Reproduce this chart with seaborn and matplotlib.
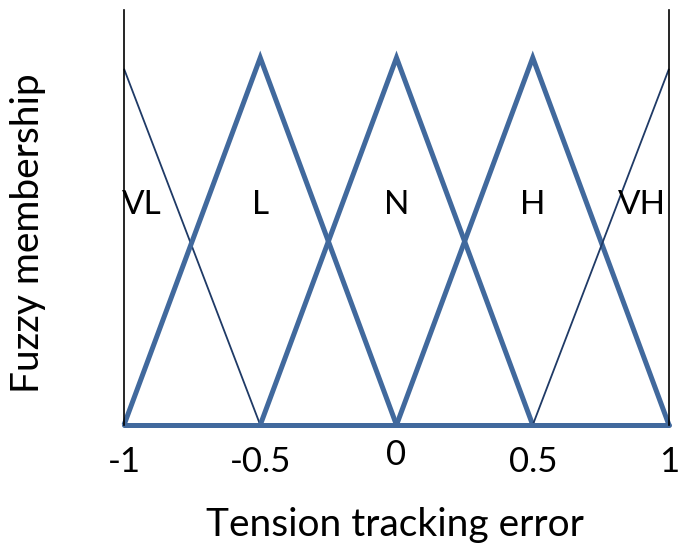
import matplotlib
matplotlib.use("Agg")
import matplotlib.pyplot as plt
import seaborn as sns
import pandas as pd

# Fuzzy sets for the tension tracking error: breakpoints and membership values
set_names = ["VL", "L", "N", "H", "VH"]
set_x = [
    [-1.0, -0.5],
    [-1.0, -0.5, 0.0],
    [-0.5, 0.0, 0.5],
    [0.0, 0.5, 1.0],
    [0.5, 1.0],
]
set_mu = [
    [0.97, 0.0],
    [0.0, 1.0, 0.0],
    [0.0, 1.0, 0.0],
    [0.0, 1.0, 0.0],
    [0.0, 0.97],
]
label_x = [-0.935, -0.5, 0.0, 0.5, 0.9]
label_y = 0.60

tick_values = [-1, -0.5, 0, 0.5, 1]
tick_labels = ["-1", "-0.5", "0", "0.5", "1"]

sns.set_theme(style="white")
plt.rcParams["font.family"] = ["Lato", "DejaVu Sans"]

thick = "#41699d"
thin = "#1f3a66"

rows = []
for name, xs, ys in zip(set_names, set_x, set_mu):
    for i, (x, y) in enumerate(zip(xs, ys)):
        rows.append({"set": name, "x": x, "mu": y, "order": i})
df = pd.DataFrame(rows)

fig = plt.figure(figsize=(6.82, 5.55), dpi=100)
ax = fig.add_axes([124 / 682, 130 / 555, 545 / 682, 415 / 555])

palette = {"VL": thin, "L": thick, "N": thick, "H": thick, "VH": thin}
sizes = {"VL": 1.3, "L": 3.6, "N": 3.6, "H": 3.6, "VH": 1.3}
for name in set_names:
    sub = df[df["set"] == name].sort_values("order")
    sns.lineplot(data=sub, x="x", y="mu", ax=ax, color=palette[name],
                 linewidth=sizes[name], sort=False, estimator=None,
                 solid_capstyle="butt", solid_joinstyle="miter", legend=False)

# Zero membership base line
sns.lineplot(x=[-1.0, 1.0], y=[0.0, 0.0], ax=ax, color=thick, linewidth=3.6,
             estimator=None, legend=False)
for line in ax.lines:
    line.set_clip_on(False)

ax.set_xlim(-1, 1)
ax.set_ylim(0, 1.13)

for s in ["top", "bottom"]:
    ax.spines[s].set_visible(False)
for s in ["left", "right"]:
    ax.spines[s].set_color("black")
    ax.spines[s].set_linewidth(1.2)

for name, lx in zip(set_names, label_x):
    ax.text(lx, label_y, name, ha="center", va="center", fontsize=24, color="black")

ax.set_xticks([])
ax.set_yticks([])
for v, t in zip(tick_values, tick_labels):
    dy = -0.082 if t == "0" else -0.10
    ax.text(v, dy, t, ha="center", va="center", fontsize=25, color="black",
            clip_on=False)

fig.text(395 / 682, 1 - 525 / 555, "Tension tracking error", ha="center",
         va="center", fontsize=28, color="black")
fig.text(28 / 682, 1 - 233 / 555, "Fuzzy membership", ha="center",
         va="center", rotation=90, fontsize=28, color="black")

ax.set_xlabel("")
ax.set_ylabel("")
fig.savefig("out.png", dpi=100)
